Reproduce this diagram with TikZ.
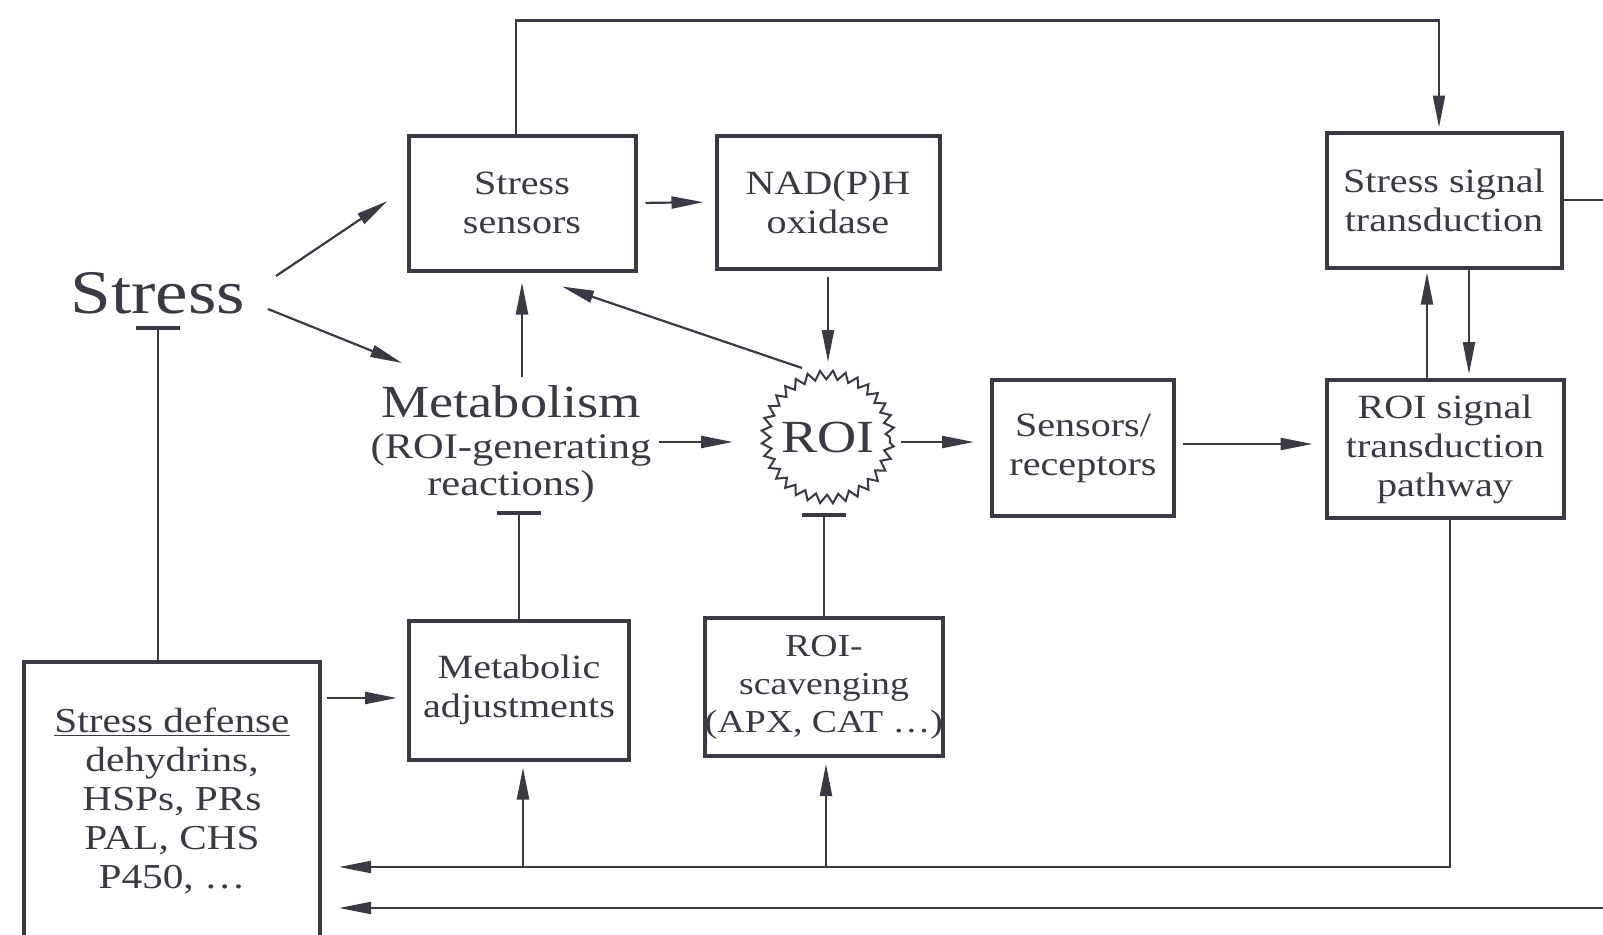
\documentclass[tikz,border=0pt]{standalone}
\usepackage{fontspec}
\setmainfont{Liberation Serif}[FakeStretch=1.18]
\usetikzlibrary{arrows.meta,calc,decorations.pathmorphing}
\definecolor{ink}{HTML}{3A3A44}
\begin{document}
\begin{tikzpicture}[x=0.5pt,y=-0.5pt,
  box/.style={draw=ink, line width=2pt, inner sep=0pt, align=center, text=ink,
    font=\fontsize{17}{19.5}\selectfont},
  lbl/.style={inner sep=0pt, align=center, text=ink},
  arr/.style={draw=ink, line width=1.1pt, -{Triangle[length=16pt,width=6pt]}},
  inh/.style={draw=ink, line width=1.1pt, -{Bar[width=22pt,line width=1.8pt]}}
]
\useasboundingbox (0,0) rectangle (1603,934);
\clip (0,0) rectangle (1603,934);
\fill[white] (0,0) rectangle (1603,934);

% --- nodes ---
\node[lbl, font=\fontsize{31}{31}\selectfont, inner ysep=6pt] (stress) at (158,293) {Stress};
\node[box, minimum width=113.5pt, minimum height=67.5pt] (ssens) at (522,203) {Stress\\sensors};
\node[box, minimum width=111.5pt, minimum height=66.5pt] (nadph) at (828,202) {NAD(P)H\\oxidase};
\node[box, minimum width=117.5pt, minimum height=67.5pt] (ssig) at (1444,200) {Stress signal\\transduction};
\node[lbl, font=\fontsize{18}{18.5}\selectfont, minimum height=67pt] (metab) at (511,444)
  {{\fontsize{23}{23}\selectfont Metabolism}\\[2pt](ROI-generating\\reactions)};
\node[circle, draw=ink, line width=1pt, minimum size=62pt, inner sep=0pt, text=ink,
  font=\fontsize{23}{23}\selectfont, decorate,
  decoration={zigzag,segment length=6pt,amplitude=2.2pt}] (roi) at (828,437) {ROI};
\node[box, minimum width=91pt, minimum height=68pt] (sens) at (1083,448) {Sensors/\\receptors};
\node[box, minimum width=118.5pt, minimum height=69pt] (roisig) at (1445,449) {ROI signal\\transduction\\pathway};
\node[box, minimum width=110pt, minimum height=69.5pt] (madj) at (519,690) {Metabolic\\adjustments};
\node[box, minimum width=119pt, minimum height=69pt, font=\fontsize{16}{19}\selectfont] (roisc) at (824,687)
  {ROI-\\scavenging\\(APX, CAT \ldots)};
\node[box, minimum width=148pt, minimum height=139pt, font=\fontsize{17.5}{19.5}\selectfont] (sdef) at (172,801)
  {\underline{Stress defense}\\dehydrins,\\HSPs, PRs\\PAL, CHS\\P450, \ldots};

% --- stress input ---
\draw[arr] ($(stress.center)+(118,-17)$) -- ($(ssens.west)+(-19,-2)$);
\draw[arr] ($(stress.center)+(110,16)$) -- ($(metab.center)+(-109,-81)$);

% --- ROI production ---
\draw[arr, shorten <=4pt, shorten >=5.5pt] (ssens.east) -- (nadph.west);
\draw[arr, shorten <=3pt, shorten >=6pt] (nadph.south) -- (roi.north);
\draw[arr] ($(roi.center)+(-26,-69)$) -- ($(ssens.south)+(40,14)$);
\draw[arr, shorten >=5pt] (ssens.south |- metab.north) -- (ssens.south);
\draw[arr] ($(metab.center)+(148,-2)$) -- ($(roi.west)+(-32,5)$);

% --- ROI signalling ---
\draw[arr] ($(roi.east)+(10,5)$) -- ($(sens.west)+(-16,-6)$);
\draw[arr] ($(sens.east)+(7,-4)$) -- ($(roisig.west)+(-12,-5)$);
\draw[arr] ($(roisig.north)+(-18,0)$) -- ($(ssig.south)+(-17,3)$);
\draw[arr] ($(ssig.south)+(25,0)$) -- ($(roisig.north)+(24,-4)$);

% --- stress signal loop ---
\draw[arr] ($(ssens.north)+(-6,0)$) -- ++(0,-113) -| ($(ssig.north)+(-5,-3)$);
\draw[arr] (ssig.east) -- ++(100,0) |- ($(sdef.east)+(17,107)$);

% --- feedback to defenses ---
\coordinate (fb) at ($(sdef.east)+(17,66)$);
\draw[arr] ($(roisig.south)+(5,0)$) |- (fb);
\draw[arr] ($(madj.south |- fb)+(4,0)$) -- ($(madj.south)+(4,6)$);
\draw[arr] ($(roisc.south |- fb)+(2,0)$) -- ($(roisc.south)+(2,6)$);
\draw[arr] ($(sdef.east |- madj.west)+(5,8)$) -- ($(madj.west)+(-10,8)$);

% --- inhibitions ---
\draw[inh] (stress.south |- sdef.north) -- (stress.south);
\draw[inh] (madj.north) -- (madj.north |- metab.south);
\draw[inh] (roisc.north) -- ($(roisc.north |- roi.south)+(0,13)$);
\end{tikzpicture}
\end{document}
